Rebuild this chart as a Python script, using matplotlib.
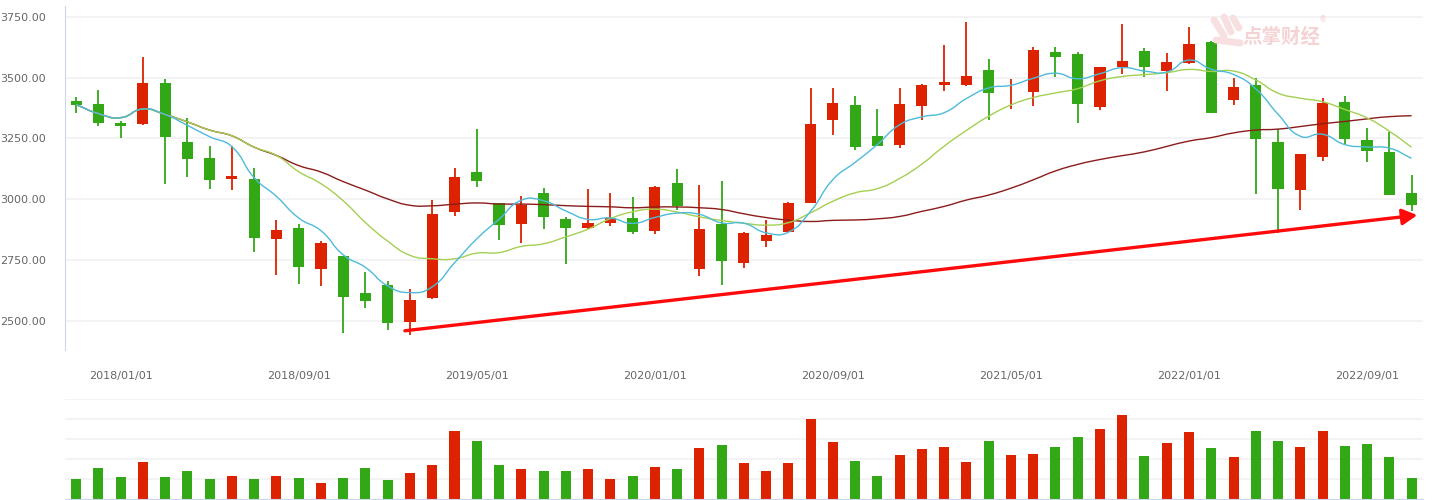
# Monthly candlestick chart with MA5 / MA10 / MA30 and volume panel
import numpy as np
import pandas as pd
import matplotlib
matplotlib.use("Agg")
import matplotlib.pyplot as plt
from matplotlib.path import Path
from matplotlib.patches import PathPatch

plt.rcParams['font.family'] = ['DejaVu Sans', 'Noto Sans CJK SC']

# Data (one candle per month)
months = pd.date_range("2017-11-01", periods=61, freq="MS").strftime("%Y/%m/%d")

opens = [3404, 3391, 3313, 3311, 3478, 3235, 3170, 3085, 3085, 2838,
         2882, 2715, 2767, 2615, 2648, 2497, 2596, 2949, 3112, 2983,
         2900, 3026, 2919, 2883, 2904, 2923, 2871, 3067, 2715, 2898,
         2740, 2830, 2867, 2986, 3327, 3387, 3260, 3224, 3385, 3471,
         3470, 3531, 3443, 3442, 3605, 3597, 3380, 3543, 3609, 3527,
         3558, 3646, 3406, 3470, 3235, 3040, 3175, 3400, 3244, 3194,
         3026]
highs = [3420, 3449, 3320, 3584, 3494, 3334, 3219, 3219, 3129, 2915,
         2898, 2829, 2767, 2701, 2664, 2631, 2997, 3129, 3289, 2985,
         3013, 3046, 2927, 3042, 3026, 3009, 3053, 3124, 3059, 3075,
         2866, 2915, 2989, 3457, 3457, 3424, 3371, 3457, 3474, 3634,
         3728, 3576, 3494, 3626, 3626, 3605, 3545, 3720, 3621, 3601,
         3708, 3650, 3498, 3498, 3289, 3188, 3416, 3424, 3293, 3276,
         3101]
lows = [3356, 3302, 3253, 3306, 3064, 3092, 3044, 3040, 2783, 2689,
        2652, 2644, 2451, 2553, 2463, 2442, 2590, 2933, 3052, 2834,
        2822, 2879, 2736, 2880, 2892, 2859, 2859, 2956, 2686, 2649,
        2719, 2805, 2865, 2984, 3265, 3204, 3218, 3212, 3327, 3446,
        3465, 3326, 3372, 3383, 3502, 3313, 3368, 3515, 3502, 3445,
        3556, 3356, 3387, 3023, 2863, 2957, 3159, 3228, 3155, 3019,
        2953]
closes = [3389, 3315, 3302, 3478, 3257, 3167, 3081, 3096, 2842, 2874,
          2723, 2820, 2600, 2584, 2493, 2586, 2940, 3092, 3076, 2896,
          2977, 2929, 2883, 2903, 2924, 2867, 3050, 2972, 2878, 2748,
          2861, 2853, 2985, 3309, 3396, 3216, 3220, 3391, 3470, 3482,
          3506, 3438, 3446, 3613, 3586, 3393, 3543, 3568, 3545, 3564,
          3638, 3356, 3461, 3249, 3044, 3186, 3396, 3249, 3200, 3019,
          2978]
volumes = [20, 31, 22, 37, 22, 28, 20, 23, 20, 23,
           21, 16, 21, 31, 19, 26, 34, 68, 58, 34,
           30, 28, 28, 30, 20, 23, 32, 30, 51, 54,
           36, 28, 36, 80, 57, 38, 23, 44, 50, 52,
           37, 58, 44, 45, 52, 62, 70, 84, 43, 56,
           67, 51, 42, 68, 58, 52, 68, 53, 55, 42,
           21]

# trend arrow drawn on the chart (candle index, price)
trend_start = (14.77, 2460)
trend_end = (60.26, 2935)

df = pd.DataFrame({"open": opens, "high": highs, "low": lows,
                   "close": closes, "volume": volumes}, index=months)
df["ma5"] = df["close"].rolling(5, min_periods=1).mean()
df["ma10"] = df["close"].rolling(10, min_periods=1).mean()
df["ma30"] = df["close"].rolling(30, min_periods=1).mean()

RED = "#dd2200"
GREEN = "#33a816"
GRID = "#f1f1f5"
AXIS = "#ccd6eb"
TXT = "#666666"

x = np.arange(len(df))
up = df["close"] >= df["open"]
colors = np.where(up, RED, GREEN)


def smooth_line(ax, xs, ys, color, smooth=0.5, sx=22.26, sy=0.2433):
    # bezier path through the points (same idea as a "smooth" line in web charts)
    p = np.column_stack([np.asarray(xs, float) * sx, np.asarray(ys, float) * sy])
    n = len(p)
    before, after = p.copy(), p.copy()
    for i in range(n):
        prev = p[i - 1] if i > 0 else p[i]
        nxt = p[i + 1] if i < n - 1 else p[i]
        v = (nxt - prev) * smooth
        d0 = np.hypot(*(p[i] - prev))
        d1 = np.hypot(*(nxt - p[i]))
        if d0 + d1 > 0:
            before[i] = p[i] - v * d0 / (d0 + d1)
            after[i] = p[i] + v * d1 / (d0 + d1)
    verts = [p[0]]
    codes = [Path.MOVETO]
    for i in range(n - 1):
        verts += [after[i], before[i + 1], p[i + 1]]
        codes += [Path.CURVE4] * 3
    verts = np.array(verts) / [sx, sy]
    ax.add_patch(PathPatch(Path(verts, codes), fill=False, edgecolor=color,
                           linewidth=1.0, zorder=3))


fig = plt.figure(figsize=(14.43, 5.0), dpi=100)
ax = fig.add_axes([65 / 1443, 1 - 350 / 500, 1357.7 / 1443, 344 / 500])
axv = fig.add_axes([65 / 1443, 1 - 499 / 500, 1357.7 / 1443, 99.7 / 500])

# Candles
body_low = np.minimum(df["open"], df["close"])
body_h = np.maximum(np.abs(df["close"] - df["open"]), 3)
ax.vlines(x, df["low"], df["high"], colors=colors, linewidth=1.3, zorder=2)
ax.bar(x, body_h, bottom=body_low, width=0.5, color=colors, zorder=2)

# Moving averages
smooth_line(ax, x, df["ma30"], "#8b1c1c")
smooth_line(ax, x, df["ma10"], "#a5cf52")
smooth_line(ax, x, df["ma5"], "#4dbbd9")

# Trend arrow
ax.annotate("", xy=trend_end, xytext=trend_start,
            arrowprops=dict(arrowstyle="-|>,head_length=0.9,head_width=0.48",
                            color="#ff0a0a", lw=2.4, shrinkA=0, shrinkB=0,
                            mutation_scale=10),
            zorder=4)

ax.set_xlim(-0.5, len(df) - 0.5)
ax.set_ylim(2381, 3794)
ax.set_yticks(np.arange(2500, 3751, 250))
ax.set_yticklabels([f"{v:.2f}" for v in np.arange(2500, 3751, 250)])
tick_idx = np.arange(2, len(df), 8)
ax.set_xticks(tick_idx)
ax.set_xticklabels([months[i] for i in tick_idx])
ax.tick_params(axis="both", length=0, labelsize=8, colors=TXT)
ax.tick_params(axis="y", pad=14)
ax.tick_params(axis="x", pad=15)
ax.grid(axis="y", color=GRID, linewidth=1.2, zorder=0)
for s in ["top", "right", "bottom"]:
    ax.spines[s].set_visible(False)
ax.spines["left"].set_color(AXIS)
ax.set_axisbelow(True)

# Volume
axv.bar(x, df["volume"], width=0.45, color=colors, zorder=2)
axv.set_xlim(-0.5, len(df) - 0.5)
axv.set_ylim(0, 100)
axv.set_yticks([20, 40, 60, 80, 100])
axv.set_xticks([])
axv.set_yticklabels([])
axv.tick_params(length=0)
axv.grid(axis="y", color=GRID, linewidth=1.2, zorder=0)
for s in ["top", "right", "left"]:
    axv.spines[s].set_visible(False)
axv.spines["bottom"].set_color(AXIS)
axv.set_axisbelow(True)

# Watermark
fig.text(1281 / 1443, 1 - 37 / 500, "点掌财经", family=["Noto Sans CJK SC"],
         fontsize=14, fontweight="bold", color="#f5d3d3", ha="center", va="center")
fig.text(1323 / 1443, 1 - 20 / 500, "®", fontsize=6, color="#f5d3d3",
         ha="center", va="center")
for (x0, y0, x1, y1) in [(1214, 20, 1224, 36), (1224, 17, 1231, 32),
                         (1233, 18, 1239, 28), (1216, 40, 1240, 43)]:
    fig.add_artist(plt.Line2D([x0 / 1443, x1 / 1443], [1 - y0 / 500, 1 - y1 / 500],
                              color="#f8e0e0", linewidth=5, solid_capstyle="round"))

fig.savefig("out.png", dpi=100)
